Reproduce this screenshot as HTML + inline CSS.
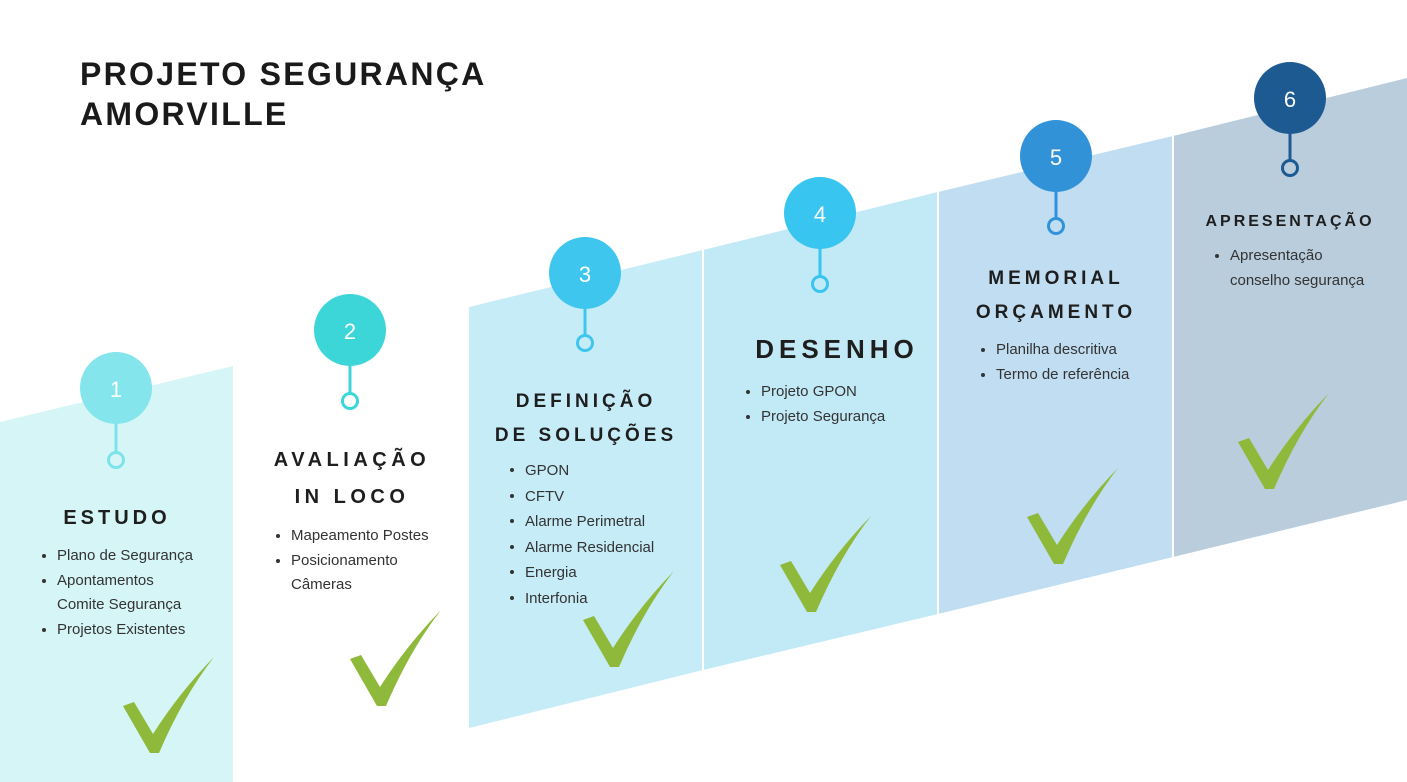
<!DOCTYPE html>
<html><head><meta charset="utf-8"><style>
body{margin:0;width:1407px;height:782px;overflow:hidden;background:#fff;font-family:"Liberation Sans",sans-serif;position:relative}
.t{position:absolute;color:#222}
.h{position:absolute;font-weight:bold;font-size:20px;letter-spacing:4px;color:#1e1e1e;text-align:center;line-height:47px}
.l{position:absolute;font-size:15px;color:#333;line-height:24.5px;margin:0;padding:0;list-style:none;white-space:nowrap}
.l li{position:relative;padding-left:18px}
.l li.b:before{content:"";position:absolute;left:3px;top:10px;width:4px;height:4px;border-radius:50%;background:#333}
</style></head><body>
<svg width="1407" height="782" style="position:absolute;left:0;top:0">
<polygon points="0,422 233,366 233,782 0,782" fill="#d5f5f6"/>
<polygon points="469,307 703,250 703,670 469,728" fill="#c6ecf8"/>
<polygon points="703,250 938,192 938,614 703,670" fill="#c2e9f6"/>
<polygon points="938,192 1173,136 1173,557 938,614" fill="#c0ddf1"/>
<polygon points="1173,136 1407,78 1407,500 1173,557" fill="#b9cddd"/>
<line x1="703" y1="250" x2="703" y2="670" stroke="#fff" stroke-width="2"/>
<line x1="938" y1="192" x2="938" y2="614" stroke="#fff" stroke-width="2"/>
<line x1="1173" y1="136" x2="1173" y2="557" stroke="#fff" stroke-width="2"/>
<g font-family="Liberation Sans, sans-serif" font-size="22" fill="#fff" text-anchor="middle">
<g stroke-width="3" fill="none">
<line x1="116" y1="420" x2="116" y2="452" stroke="#7de3ea"/><circle cx="116" cy="460" r="7.5" stroke="#7de3ea"/>
<line x1="350" y1="362" x2="350" y2="393" stroke="#3dd6d8"/><circle cx="350" cy="401" r="7.5" stroke="#3dd6d8"/>
<line x1="585" y1="305" x2="585" y2="335" stroke="#3ec6ee"/><circle cx="585" cy="343" r="7.5" stroke="#3ec6ee"/>
<line x1="820" y1="245" x2="820" y2="276" stroke="#38c5ef"/><circle cx="820" cy="284" r="7.5" stroke="#38c5ef"/>
<line x1="1056" y1="188" x2="1056" y2="218" stroke="#3292d8"/><circle cx="1056" cy="226" r="7.5" stroke="#3292d8"/>
<line x1="1290" y1="130" x2="1290" y2="160" stroke="#1d5a92"/><circle cx="1290" cy="168" r="7.5" stroke="#1d5a92"/>
</g>
<circle cx="116" cy="388" r="36" fill="#85e5ec"/><text x="116" y="397">1</text>
<circle cx="350" cy="330" r="36" fill="#3dd6d8"/><text x="350" y="339">2</text>
<circle cx="585" cy="273" r="36" fill="#3ec6ee"/><text x="585" y="282">3</text>
<circle cx="820" cy="213" r="36" fill="#38c5ef"/><text x="820" y="222">4</text>
<circle cx="1056" cy="156" r="36" fill="#3292d8"/><text x="1056" y="165">5</text>
<circle cx="1290" cy="98" r="36" fill="#1d5a92"/><text x="1290" y="107">6</text>
</g>
<defs><path id="ck" d="M0,3 L11,-1 L30,31 Q56,-10 91,-46 Q60,-6 36,50 L27,50 Z" fill="#8fb93a"/></defs>
<use href="#ck" x="123" y="703"/>
<use href="#ck" x="350" y="656"/>
<use href="#ck" x="583" y="617"/>
<use href="#ck" x="780" y="562"/>
<use href="#ck" x="1027" y="514"/>
<use href="#ck" x="1238" y="439"/>
</svg>
<div class="t" style="left:80px;top:54px;font-size:32px;font-weight:bold;line-height:40px;letter-spacing:2.3px;color:#1a1a1a">PROJETO SEGURANÇA<br>AMORVILLE</div>

<div class="h" style="left:17px;width:200px;top:495px">ESTUDO</div>
<ul class="l" style="left:39px;top:544px">
<li class="b">Plano de Segurança</li><li class="b">Apontamentos</li><li>Comite Segurança</li><li class="b">Projetos Existentes</li></ul>

<div class="h" style="left:252px;width:200px;top:442px;line-height:37px;letter-spacing:4.5px">AVALIAÇÃO<br>IN LOCO</div>
<ul class="l" style="left:273px;top:524px">
<li class="b">Mapeamento Postes</li><li class="b">Posicionamento</li><li>Câmeras</li></ul>

<div class="h" style="left:486px;width:200px;top:385px;font-size:19px;line-height:34px">DEFINIÇÃO<br>DE SOLUÇÕES</div>
<ul class="l" style="left:507px;top:458px;line-height:25.5px">
<li class="b">GPON</li><li class="b">CFTV</li><li class="b">Alarme Perimetral</li><li class="b">Alarme Residencial</li><li class="b">Energia</li><li class="b">Interfonia</li></ul>

<div class="h" style="left:737px;width:200px;top:326px;font-size:26px;letter-spacing:5px">DESENHO</div>
<ul class="l" style="left:743px;top:380px">
<li class="b">Projeto GPON</li><li class="b">Projeto Segurança</li></ul>

<div class="h" style="left:956px;width:200px;top:262px;font-size:19px;line-height:34px">MEMORIAL<br>ORÇAMENTO</div>
<ul class="l" style="left:978px;top:338px">
<li class="b">Planilha descritiva</li><li class="b">Termo de referência</li></ul>

<div class="h" style="left:1190px;width:200px;top:198px;font-size:16px;letter-spacing:3px">APRESENTAÇÃO</div>
<ul class="l" style="left:1212px;top:244px">
<li class="b">Apresentação</li><li style="padding-left:18px">conselho segurança</li></ul>
</body></html>
